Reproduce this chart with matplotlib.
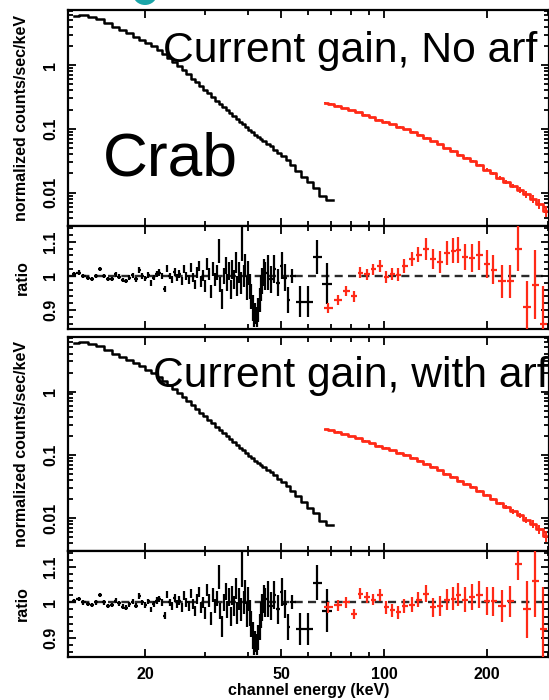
import numpy as np
import matplotlib
matplotlib.use('Agg')
import matplotlib.pyplot as plt
from matplotlib.patches import Ellipse
from matplotlib.ticker import FixedLocator, FixedFormatter, NullFormatter, MultipleLocator

plt.rcParams['font.family'] = ['Liberation Sans', 'DejaVu Sans']
plt.rcParams['lines.scale_dashes'] = False

# ---------------- data ----------------
blk_spec_e = [12.4, 13.2, 14.0, 14.8, 15.6, 16.4, 17.2, 18.0, 18.8, 19.6, 20.4, 21.2, 22.0, 22.8,
              23.6, 24.4, 25.2, 26.0, 26.8, 27.6, 28.4, 29.2, 30.0, 30.8, 31.6, 32.4, 33.2, 34.0,
              34.8, 35.6, 36.4, 37.2, 38.0, 38.8, 39.6, 40.4, 41.2, 42.0, 42.8, 43.6, 44.4,
              45.7, 46.8, 48.0, 49.3, 50.7, 52.2, 54.0, 56.0, 58.2, 60.6, 63.2, 66.0, 68.8, 71.0]
blk_spec_v = [5.95, 6.0, 5.75, 5.2, 4.55, 4.0, 3.55, 3.15, 2.8, 2.5, 2.23, 1.96, 1.72, 1.49,
              1.28, 1.11, 0.96, 0.83, 0.72, 0.615, 0.535, 0.465, 0.41, 0.36, 0.315, 0.277, 0.245, 0.217,
              0.195, 0.175, 0.157, 0.142, 0.13, 0.118, 0.107, 0.097, 0.089, 0.081, 0.075, 0.069, 0.064,
              0.058, 0.053, 0.047, 0.042, 0.037, 0.032, 0.027, 0.022, 0.0177, 0.0145, 0.0118, 0.0088,
              0.0078, 0.0078]

red_spec_e = [67, 70, 73, 76.5, 80, 84, 88, 92, 96.5, 101, 106, 111, 116, 121.5, 127, 133, 139,
              145.5, 152, 159, 166.5, 174, 182, 190, 199, 208, 217.5, 227.5, 238, 249, 260, 272,
              284, 297]
red_spec_v = [0.255, 0.245, 0.232, 0.21, 0.197, 0.181, 0.167, 0.153, 0.140, 0.129, 0.118, 0.108,
              0.099, 0.09, 0.081, 0.072, 0.064, 0.057, 0.050, 0.045, 0.039, 0.035, 0.031, 0.027,
              0.023, 0.020, 0.017, 0.0148, 0.0127, 0.011, 0.0094, 0.008, 0.0067, 0.0052]
red_spec_relerr = [0.02] * 22 + [0.03, 0.03, 0.04, 0.05, 0.06, 0.07, 0.08, 0.1, 0.12, 0.14, 0.17, 0.2]

blk_ratio_e = [12.4, 12.8, 13.2, 13.6, 14.0, 14.4, 14.8, 15.2, 15.6, 16.0, 16.4, 16.8, 17.2, 17.6,
               18.0, 18.4, 18.8, 19.2, 19.6, 20.0, 20.4, 20.8, 21.2, 21.6, 22.0, 22.4, 22.8, 23.2,
               23.6, 24.0, 24.4, 24.8, 25.2, 25.6, 26.0, 26.4, 26.8, 27.2, 27.6, 28.0, 28.4, 28.8,
               29.2, 29.6, 30.0, 30.4, 30.8, 31.2, 31.6, 32.0, 32.4, 32.8, 33.2, 33.6, 34.0, 34.4,
               34.8, 35.2, 35.6, 36.0, 36.4, 36.8, 37.2, 37.6, 38.0, 38.4, 38.8, 39.2, 39.6, 40.0,
               40.4, 40.8, 41.2, 41.6, 42.0, 42.4, 42.8, 43.2, 43.6, 44.0, 44.4, 44.8,
               45.6, 46.6, 47.7, 48.9, 50.2, 51.3, 52.4, 53.8, 56.8, 59.9, 63.7, 68.0]
blk_ratio_v = [1.005, 1.01, 1.0, 0.995, 0.992, 1.0, 1.02, 1.0, 0.99, 0.992, 1.005, 0.998, 0.988, 0.985,
               0.995, 1.002, 0.99, 1.018, 1.0, 0.993, 1.003, 0.98, 0.995, 1.005, 1.01, 1.0, 0.962, 1.022,
               1.0, 0.99, 1.012, 0.995, 1.005, 0.985, 1.02, 1.0, 0.99, 1.025, 0.995, 0.975, 1.01, 1.03,
               0.985, 1.0, 0.97, 1.035, 1.005, 0.955, 1.02, 0.99, 1.01, 1.072, 0.975, 0.932, 1.0, 1.03,
               0.98, 1.015, 0.96, 1.02, 0.99, 1.04, 0.97, 1.01, 0.98, 1.095, 1.0, 1.03, 0.965, 1.01,
               0.97, 0.94, 0.905, 0.885, 0.89, 0.88, 0.9, 0.93, 0.965, 0.985, 1.01, 1.0,
               1.01, 0.99, 1.02, 0.98, 1.03, 0.995, 0.93, 1.0, 0.925, 0.925, 1.056, 0.977]
blk_ratio_err = [0.006, 0.006, 0.006, 0.006, 0.006, 0.006, 0.006, 0.006, 0.006, 0.006, 0.007, 0.007,
                 0.007, 0.007, 0.007, 0.007, 0.007, 0.008, 0.008, 0.008, 0.008, 0.008, 0.008, 0.009,
                 0.009, 0.009, 0.01, 0.01, 0.01, 0.011, 0.011, 0.011, 0.012, 0.012, 0.012, 0.013,
                 0.013, 0.013, 0.014, 0.014, 0.015, 0.015, 0.016, 0.016, 0.017, 0.018, 0.018, 0.019,
                 0.02, 0.02, 0.021, 0.035, 0.022, 0.03, 0.023, 0.024, 0.025, 0.026, 0.027, 0.028,
                 0.028, 0.03, 0.03, 0.031, 0.032, 0.05, 0.033, 0.034, 0.035, 0.035, 0.036, 0.037,
                 0.038, 0.035, 0.03, 0.03, 0.035, 0.036, 0.037, 0.038, 0.04, 0.04,
                 0.05, 0.04, 0.04, 0.04, 0.04, 0.04, 0.037, 0.02, 0.045, 0.045, 0.05, 0.06]

red_ratio_e = [68.6, 73.4, 77.4, 81.7, 85.1, 89.2, 92.9, 97.3, 101.3, 105.5, 109.9, 114.4, 120.7,
               125.7, 132.7, 139.1, 145.8, 152.8, 159.1, 164.6, 172.5, 180.8, 189.6, 200.1, 208.4,
               221.3, 233.6, 246.5, 261.9, 276.4, 291.7]
red_ratio_noarf = [0.906, 0.93, 0.956, 0.94, 1.01, 1.005, 1.02, 1.03, 0.997, 1.006, 1.003, 1.03, 1.05,
                   1.062, 1.08, 1.05, 1.04, 1.068, 1.074, 1.076, 1.056, 1.053, 1.06, 1.035, 1.018,
                   0.985, 0.985, 1.08, 0.91, 0.975, 0.86]
red_ratio_noarf_err = [0.015, 0.015, 0.015, 0.015, 0.015, 0.016, 0.016, 0.017, 0.018, 0.018, 0.019,
                       0.02, 0.021, 0.022, 0.032, 0.03, 0.032, 0.035, 0.037, 0.037, 0.038, 0.04,
                       0.042, 0.042, 0.042, 0.048, 0.048, 0.065, 0.075, 0.1, 0.11]
red_ratio_arf = [0.986, 0.992, 1.0, 0.967, 1.025, 1.014, 1.008, 1.022, 0.986, 0.978, 0.972, 0.989,
                 0.994, 1.008, 1.025, 0.986, 0.99, 1.008, 1.011, 1.022, 1.008, 1.016, 1.022, 1.003,
                 1.003, 0.99, 1.003, 1.11, 0.98, 1.06, 0.925]
red_ratio_arf_err = [0.015, 0.015, 0.015, 0.015, 0.015, 0.016, 0.016, 0.017, 0.018, 0.018, 0.019,
                     0.02, 0.021, 0.022, 0.025, 0.027, 0.028, 0.03, 0.032, 0.033, 0.035, 0.037,
                     0.038, 0.04, 0.042, 0.045, 0.045, 0.045, 0.08, 0.1, 0.12]

x_major = [20, 50, 100, 200]
x_major_labels = ['20', '50', '100', '200']
x_minor = [30, 40, 60, 70, 80, 90, 300]
spec_ticks = [0.01, 0.1, 1]
spec_labels = ['0.01', '0.1', '1']
ratio_ticks = [0.9, 1.0, 1.1]
ratio_labels = ['0.9', '1', '1.1']

panel_titles = ['Current gain, No arf', 'Current gain, with arf']

# ---------------- styling ----------------
RED = '#ff2a17'
W, H = 549, 700
XLIM = (11.9, 303)
SPEC_YLIM = (0.003, 7.3)
RATIO_YLIM = (0.845, 1.146)
FS = 11.5


def half_widths(e, frac=1.0):
    e = np.asarray(e, float)
    mids = np.sqrt(e[:-1] * e[1:])
    lo = np.concatenate([[e[0] ** 2 / mids[0]], mids])
    hi = np.concatenate([mids, [e[-1] ** 2 / mids[-1]]])
    lo = e * (lo / e) ** frac
    hi = e * (hi / e) ** frac
    return np.vstack([e - lo, hi - e])


def ax_px(left, top, right, bottom):
    return [left / W, 1 - bottom / H, (right - left) / W, (bottom - top) / H]


def style_axes(ax, kind, show_xlabels):
    ax.set_xscale('log')
    ax.set_xlim(*XLIM)
    ax.xaxis.set_major_locator(FixedLocator(x_major))
    ax.xaxis.set_minor_locator(FixedLocator(x_minor))
    if show_xlabels:
        ax.xaxis.set_major_formatter(FixedFormatter(x_major_labels))
    else:
        ax.xaxis.set_major_formatter(NullFormatter())
    ax.xaxis.set_minor_formatter(NullFormatter())
    if kind == 'spec':
        ax.set_yscale('log')
        ax.set_ylim(*SPEC_YLIM)
        ax.yaxis.set_major_locator(FixedLocator(spec_ticks))
        ax.yaxis.set_major_formatter(FixedFormatter(spec_labels))
        minors = [m * 10.0 ** k for k in range(-3, 1) for m in range(2, 10)]
        ax.yaxis.set_minor_locator(FixedLocator(minors))
        ax.yaxis.set_minor_formatter(NullFormatter())
    else:
        ax.set_ylim(*RATIO_YLIM)
        ax.yaxis.set_major_locator(FixedLocator(ratio_ticks))
        ax.yaxis.set_major_formatter(FixedFormatter(ratio_labels))
        ax.yaxis.set_minor_locator(MultipleLocator(0.02))
    ax.tick_params(which='both', direction='in', top=True, right=True, width=1.3, color='black')
    ax.tick_params(which='major', length=6)
    ax.tick_params(which='minor', length=3.5)
    ax.tick_params(axis='x', which='major', pad=7, labelsize=FS)
    ax.tick_params(axis='y', which='major', pad=7, labelsize=FS, labelrotation=90)
    for lab in ax.get_xticklabels() + ax.get_yticklabels():
        lab.set_fontweight('bold')
    for lab in ax.get_yticklabels():
        lab.set_verticalalignment('center')
    for s in ax.spines.values():
        s.set_linewidth(1.6)


def draw_spec(ax):
    ax.step(blk_spec_e, blk_spec_v, where='mid', color='black', lw=1.8)
    ax.step(red_spec_e, red_spec_v, where='mid', color=RED, lw=2.0)
    rv = np.asarray(red_spec_v)
    ax.errorbar(red_spec_e, red_spec_v, yerr=rv * np.asarray(red_spec_relerr), fmt='none',
                ecolor=RED, elinewidth=1.4, capsize=0)


def draw_ratio(ax, red_vals, red_errs):
    ax.axhline(1.0, color='#2a2a2a', lw=1.7, dashes=(5.8, 3.8), zorder=1)
    ax.errorbar(blk_ratio_e, blk_ratio_v, xerr=half_widths(blk_ratio_e), yerr=blk_ratio_err,
                fmt='none', ecolor='black', elinewidth=1.6, capsize=0, zorder=2)
    ax.errorbar(red_ratio_e, red_vals, xerr=half_widths(red_ratio_e, 0.9), yerr=red_errs,
                fmt='none', ecolor=RED, elinewidth=1.6, capsize=0, zorder=3)


fig = plt.figure(figsize=(W / 100, H / 100), dpi=100)

ax1 = fig.add_axes(ax_px(68, 10, 549, 226))
ax2 = fig.add_axes(ax_px(68, 226, 549, 329))
ax3 = fig.add_axes(ax_px(68, 337, 549, 551))
ax4 = fig.add_axes(ax_px(68, 551, 549, 657))

draw_spec(ax1)
draw_ratio(ax2, red_ratio_noarf, red_ratio_noarf_err)
draw_spec(ax3)
draw_ratio(ax4, red_ratio_arf, red_ratio_arf_err)

style_axes(ax1, 'spec', False)
style_axes(ax2, 'ratio', False)
style_axes(ax3, 'spec', False)
style_axes(ax4, 'ratio', True)

# axis labels
for top, bot in [(10, 226), (337, 551)]:
    fig.text(22 / W, 1 - (top + bot) / 2 / H, 'normalized counts/sec/keV', rotation=90,
             ha='center', va='center', fontsize=FS, fontweight='bold')
for top, bot in [(226, 329), (551, 657)]:
    fig.text(22 / W, 1 - (top + bot) / 2 / H, 'ratio', rotation=90,
             ha='center', va='center', fontsize=FS, fontweight='bold')
fig.text((68 + 549) / 2 / W, 1 - 690 / H, 'channel energy (keV)', ha='center', va='center',
         fontsize=FS, fontweight='bold')

# annotations
fig.text(163 / W, 1 - 62 / H, panel_titles[0], fontsize=30.7, ha='left', va='baseline')
fig.text(153 / W, 1 - 387 / H, panel_titles[1], fontsize=30.7, ha='left', va='baseline')
fig.text(103 / W, 1 - 175 / H, 'Crab', fontsize=44.8, ha='left', va='baseline')

# cut-off teal glyph remnant at the very top of the slide
fig.add_artist(Ellipse((145 / W, 1 + 6 / H), 24 / W, 22 / H, transform=fig.transFigure,
                       facecolor='#1ba5a8', edgecolor='none'))

fig.savefig('out.png', dpi=100)
